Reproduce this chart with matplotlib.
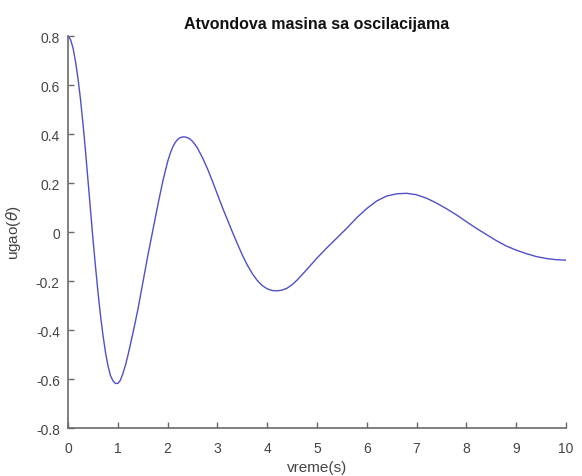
import numpy as np
import matplotlib
matplotlib.use("Agg")
import matplotlib.pyplot as plt

# vrednosti ocitane sa slike (vreme u s, ugao u rad)
vreme = [0.0, 0.05, 0.1, 0.15, 0.2, 0.25, 0.3, 0.35, 0.4, 0.45, 0.5, 0.55, 0.6, 0.65,
         0.7, 0.75, 0.8, 0.85, 0.9, 0.95, 1.0, 1.05, 1.1, 1.15, 1.2, 1.3, 1.4, 1.5,
         1.6, 1.7, 1.8, 1.9, 2.0, 2.05, 2.1, 2.15, 2.2, 2.25, 2.3, 2.35, 2.4, 2.45,
         2.5, 2.55, 2.6, 2.7, 2.8, 2.9, 3.0, 3.1, 3.2, 3.3, 3.4, 3.5, 3.6, 3.7, 3.8,
         3.9, 4.0, 4.1, 4.2, 4.3, 4.4, 4.5, 4.6, 4.8, 5.0, 5.2, 5.4, 5.6, 5.8, 6.0,
         6.2, 6.4, 6.6, 6.8, 7.0, 7.2, 7.4, 7.6, 7.8, 8.0, 8.2, 8.4, 8.6, 8.8, 9.0,
         9.2, 9.4, 9.6, 9.8, 10.0]
ugao = [0.8, 0.785, 0.75, 0.695, 0.625, 0.54, 0.44, 0.33, 0.21, 0.09, -0.03, -0.14,
        -0.245, -0.34, -0.42, -0.49, -0.545, -0.585, -0.607, -0.618, -0.618, -0.605,
        -0.578, -0.545, -0.505, -0.415, -0.318, -0.208, -0.098, 0.005, 0.108, 0.205,
        0.288, 0.32, 0.346, 0.365, 0.378, 0.385, 0.388, 0.388, 0.385, 0.379, 0.37,
        0.357, 0.342, 0.303, 0.258, 0.207, 0.153, 0.10, 0.05, 0.0, -0.048, -0.094,
        -0.135, -0.17, -0.198, -0.219, -0.232, -0.239, -0.24, -0.237, -0.229,
        -0.215, -0.196, -0.152, -0.106, -0.064, -0.024, 0.016, 0.059, 0.096, 0.127,
        0.147, 0.156, 0.158, 0.152, 0.138, 0.118, 0.095, 0.07, 0.042, 0.015, -0.01,
        -0.035, -0.057, -0.074, -0.088, -0.100, -0.108, -0.113, -0.115]

x_tikovi = [0, 1, 2, 3, 4, 5, 6, 7, 8, 9, 10]
y_tikovi = [-0.8, -0.6, -0.4, -0.2, 0, 0.2, 0.4, 0.6, 0.8]
y_natpisi = ['-0.8', '-0.6', '-0.4', '-0.2', '0', '0.2', '0.4', '0.6', '0.8']

plt.rcParams['font.family'] = ['Liberation Sans', 'DejaVu Sans']

fig = plt.figure(figsize=(5.82, 4.77), dpi=100)
ax = fig.add_axes([0.117, 0.1006, 0.8555, 0.8218])

ax.plot(vreme, ugao, color='#4f4fc8', linewidth=1.0, solid_joinstyle='round')

ax.set_xlim(0, 10)
ax.set_ylim(-0.8, 0.8)
ax.set_xticks(x_tikovi)
ax.set_xticklabels([str(v) for v in x_tikovi])
ax.set_yticks(y_tikovi)
ax.set_yticklabels(y_natpisi)

# samo leva i donja osa, kao u MATLAB-u sa box off
for s in ['top', 'right']:
    ax.spines[s].set_visible(False)
for s in ['left', 'bottom']:
    ax.spines[s].set_color('#6a6a6a')
    ax.spines[s].set_linewidth(1.2)
ax.tick_params(direction='in', length=4, width=1.0, colors='#6a6a6a',
               labelcolor='#444444', labelsize=10)
ax.tick_params(axis='x', pad=9)
ax.tick_params(axis='y', pad=6)

ax.set_title('Atvondova masina sa oscilacijama', fontsize=11.5, fontweight='bold',
             color='#111111', pad=6)
ax.set_xlabel('vreme(s)', fontsize=11, color='#444444', labelpad=4)
ax.set_ylabel(r'ugao($\theta$)', fontsize=11, color='#444444', labelpad=9)

fig.savefig('out.png', dpi=100)
